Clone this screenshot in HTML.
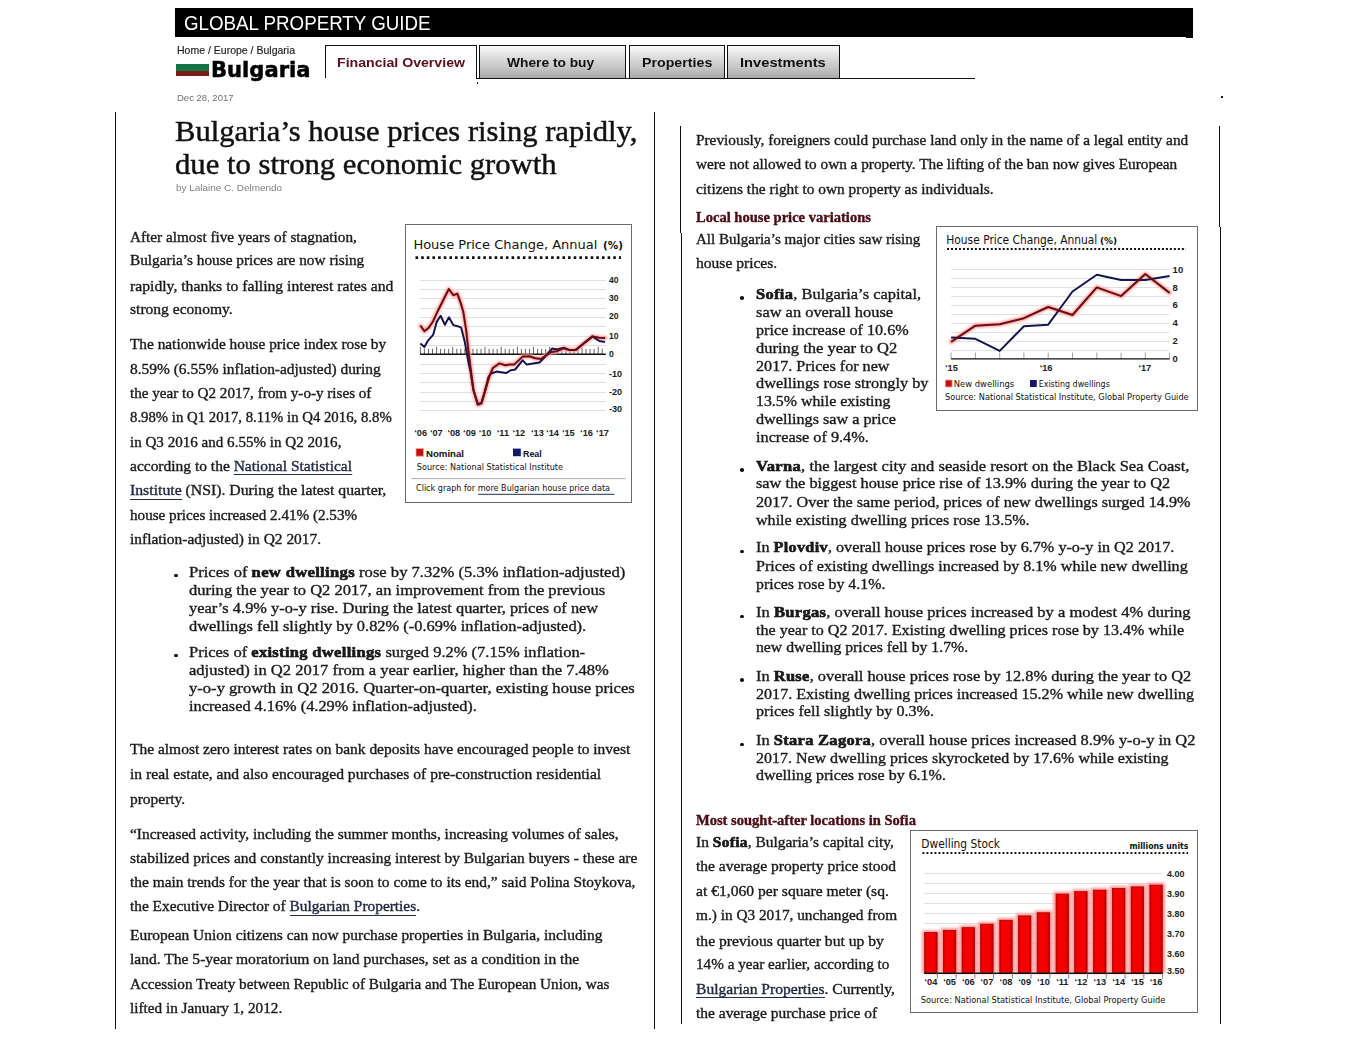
<!DOCTYPE html><html><head><meta charset="utf-8"><title>Bulgaria house prices</title><style>
*{margin:0;padding:0;box-sizing:border-box}
html,body{width:1366px;height:1041px;background:#fff;overflow:hidden;position:relative}
body>div, .abs{position:absolute}
body>div{white-space:nowrap;line-height:1;transform-origin:0 0}
a{color:#1d2f5e;text-decoration:none;border-bottom:1.2px solid #1d2f5e;padding-bottom:0.5px}
.vl{width:1px;background:#111}
.tab{border:1.3px solid #111;background:linear-gradient(#fafafa,#ddd 35%,#c4c4c4 70%,#a8a8a8)}
.tx{-webkit-text-stroke:0.35px #1a1a1a}
.tx b{-webkit-text-stroke:0.6px #111;letter-spacing:0.3px}
.tt{-webkit-text-stroke:0.45px #111}
.dot{width:3.6px;height:3.6px;border-radius:50%;background:#111}
</style></head><body>
<div style="left:175px;top:8px;width:1018px;height:29px;background:#000"></div>
<div style="left:1186px;top:36px;width:7px;height:2px;background:#000"></div>
<div style="left:176px;top:64.4px;width:33px;height:7px;background:#137546"></div>
<div style="left:176px;top:71.4px;width:33px;height:4.3px;background:#7d1d17"></div>
<div style="left:325px;top:45px;width:151.5px;height:32.5px;border:1.3px solid #111;border-bottom:none;background:#fff"></div>
<div class="tab" style="left:479px;top:45px;width:147px;height:33.8px"></div>
<div class="tab" style="left:628.5px;top:45px;width:96.5px;height:33.8px"></div>
<div class="tab" style="left:727.3px;top:45px;width:112.7px;height:33.8px"></div>
<div style="left:476px;top:77.6px;width:499px;height:1.3px;background:#111"></div>
<div style="left:477px;top:81.5px;width:1px;height:2.5px;background:#111"></div>
<div class="vl" style="left:115px;top:112px;height:917px"></div>
<div class="vl" style="left:654px;top:112px;height:917px"></div>
<div class="vl" style="left:680px;top:126px;height:106.5px"></div>
<div class="vl" style="left:681px;top:232.5px;height:791.5px"></div>
<div class="vl" style="left:1219px;top:126px;height:101px"></div>
<div class="vl" style="left:1220px;top:227px;height:797px"></div>
<div style="left:1221px;top:96px;width:1.5px;height:1.5px;background:#111"></div>
<div class="dot" style="left:174.2px;top:573.7px"></div>
<div class="dot" style="left:174.2px;top:653.7px"></div>
<div class="dot" style="left:740.4px;top:296.2px"></div>
<div class="dot" style="left:740.4px;top:468.2px"></div>
<div class="dot" style="left:740.4px;top:549.7px"></div>
<div class="dot" style="left:740.4px;top:614.7px"></div>
<div class="dot" style="left:740.4px;top:678.2px"></div>
<div class="dot" style="left:740.4px;top:742.7px"></div>
<div style="left:184.0px;top:12.4px;font-family:'Liberation Sans', Arial, sans-serif;font-size:21px;color:#fff;transform:scaleX(0.8925);">GLOBAL PROPERTY GUIDE</div>
<div style="left:176.6px;top:46.4px;font-family:'Liberation Sans', Arial, sans-serif;font-size:10.2px;color:#1a1a1a;-webkit-text-stroke:0.15px #1a1a1a;transform:scaleX(1.0316);">Home / Europe / Bulgaria</div>
<div style="left:210.5px;top:60.0px;font-family:'DejaVu Sans', 'Liberation Sans', sans-serif;font-size:21px;color:#000;font-weight:bold;-webkit-text-stroke:0.5px #000;transform:scaleX(1.0041);">Bulgaria</div>
<div style="left:176.6px;top:93.4px;font-family:'Liberation Sans', Arial, sans-serif;font-size:9.4px;color:#6f6f6f;transform:scaleX(1.0129);">Dec 28, 2017</div>
<div style="left:337.0px;top:56.1px;font-family:'Liberation Sans', Arial, sans-serif;font-size:13.5px;color:#5a0f1a;font-weight:bold;transform:scaleX(1.0465);">Financial Overview</div>
<div style="left:507.3px;top:55.9px;font-family:'Liberation Sans', Arial, sans-serif;font-size:13.5px;color:#111;font-weight:bold;transform:scaleX(1.0197);">Where to buy</div>
<div style="left:642.0px;top:55.9px;font-family:'Liberation Sans', Arial, sans-serif;font-size:13.5px;color:#111;font-weight:bold;transform:scaleX(1.0527);">Properties</div>
<div style="left:740.0px;top:55.9px;font-family:'Liberation Sans', Arial, sans-serif;font-size:13.5px;color:#111;font-weight:bold;transform:scaleX(1.0891);">Investments</div>
<div class="tt" style="left:175.4px;top:117.1px;font-family:'Liberation Serif', 'DejaVu Serif', serif;font-size:29px;color:#111;transform:scaleX(1.0541);">Bulgaria’s house prices rising rapidly,</div>
<div class="tt" style="left:175.4px;top:150.2px;font-family:'Liberation Serif', 'DejaVu Serif', serif;font-size:29px;color:#111;transform:scaleX(1.0576);">due to strong economic growth</div>
<div style="left:176.4px;top:184.2px;font-family:'Liberation Sans', Arial, sans-serif;font-size:9.2px;color:#808080;transform:scaleX(1.0809);">by Lalaine C. Delmendo</div>
<div class="tx" style="left:130.0px;top:229.7px;font-family:'Liberation Serif', 'DejaVu Serif', serif;font-size:14.5px;color:#1a1a1a;transform:scaleX(1.0513);">After almost five years of stagnation,</div>
<div class="tx" style="left:130.0px;top:253.4px;font-family:'Liberation Serif', 'DejaVu Serif', serif;font-size:14.5px;color:#1a1a1a;transform:scaleX(1.0559);">Bulgaria’s house prices are now rising</div>
<div class="tx" style="left:130.0px;top:278.6px;font-family:'Liberation Serif', 'DejaVu Serif', serif;font-size:14.5px;color:#1a1a1a;transform:scaleX(1.0818);">rapidly, thanks to falling interest rates and</div>
<div class="tx" style="left:130.0px;top:302.4px;font-family:'Liberation Serif', 'DejaVu Serif', serif;font-size:14.5px;color:#1a1a1a;transform:scaleX(1.0729);">strong economy.</div>
<div class="tx" style="left:130.0px;top:337.3px;font-family:'Liberation Serif', 'DejaVu Serif', serif;font-size:14.5px;color:#1a1a1a;transform:scaleX(1.0569);">The nationwide house price index rose by</div>
<div class="tx" style="left:130.0px;top:361.5px;font-family:'Liberation Serif', 'DejaVu Serif', serif;font-size:14.5px;color:#1a1a1a;transform:scaleX(1.0642);">8.59% (6.55% inflation-adjusted) during</div>
<div class="tx" style="left:130.0px;top:385.9px;font-family:'Liberation Serif', 'DejaVu Serif', serif;font-size:14.5px;color:#1a1a1a;transform:scaleX(1.0426);">the year to Q2 2017, from y-o-y rises of</div>
<div class="tx" style="left:130.0px;top:410.1px;font-family:'Liberation Serif', 'DejaVu Serif', serif;font-size:14.5px;color:#1a1a1a;transform:scaleX(1.0190);">8.98% in Q1 2017, 8.11% in Q4 2016, 8.8%</div>
<div class="tx" style="left:130.0px;top:434.5px;font-family:'Liberation Serif', 'DejaVu Serif', serif;font-size:14.5px;color:#1a1a1a;transform:scaleX(1.0394);">in Q3 2016 and 6.55% in Q2 2016,</div>
<div class="tx" style="left:130.0px;top:458.9px;font-family:'Liberation Serif', 'DejaVu Serif', serif;font-size:14.5px;color:#1a1a1a;transform:scaleX(1.0684);">according to the <a>National Statistical</a></div>
<div class="tx" style="left:130.0px;top:483.3px;font-family:'Liberation Serif', 'DejaVu Serif', serif;font-size:14.5px;color:#1a1a1a;transform:scaleX(1.0865);"><a>Institute</a> (NSI). During the latest quarter,</div>
<div class="tx" style="left:130.0px;top:507.7px;font-family:'Liberation Serif', 'DejaVu Serif', serif;font-size:14.5px;color:#1a1a1a;transform:scaleX(1.0444);">house prices increased 2.41% (2.53%</div>
<div class="tx" style="left:130.0px;top:532.1px;font-family:'Liberation Serif', 'DejaVu Serif', serif;font-size:14.5px;color:#1a1a1a;transform:scaleX(1.0640);">inflation-adjusted) in Q2 2017.</div>
<div class="tx" style="left:189.4px;top:564.8px;font-family:'Liberation Serif', 'DejaVu Serif', serif;font-size:15px;color:#1a1a1a;transform:scaleX(1.1052);">Prices of <b>new dwellings</b> rose by 7.32% (5.3% inflation-adjusted)</div>
<div class="tx" style="left:189.4px;top:583.0px;font-family:'Liberation Serif', 'DejaVu Serif', serif;font-size:15px;color:#1a1a1a;transform:scaleX(1.1018);">during the year to Q2 2017, an improvement from the previous</div>
<div class="tx" style="left:189.4px;top:601.2px;font-family:'Liberation Serif', 'DejaVu Serif', serif;font-size:15px;color:#1a1a1a;transform:scaleX(1.0929);">year’s 4.9% y-o-y rise. During the latest quarter, prices of new</div>
<div class="tx" style="left:189.4px;top:619.4px;font-family:'Liberation Serif', 'DejaVu Serif', serif;font-size:15px;color:#1a1a1a;transform:scaleX(1.0946);">dwellings fell slightly by 0.82% (-0.69% inflation-adjusted).</div>
<div class="tx" style="left:189.4px;top:644.6px;font-family:'Liberation Serif', 'DejaVu Serif', serif;font-size:15px;color:#1a1a1a;transform:scaleX(1.0987);">Prices of <b>existing dwellings</b> surged 9.2% (7.15% inflation-</div>
<div class="tx" style="left:189.4px;top:662.8px;font-family:'Liberation Serif', 'DejaVu Serif', serif;font-size:15px;color:#1a1a1a;transform:scaleX(1.1035);">adjusted) in Q2 2017 from a year earlier, higher than the 7.48%</div>
<div class="tx" style="left:189.4px;top:681.0px;font-family:'Liberation Serif', 'DejaVu Serif', serif;font-size:15px;color:#1a1a1a;transform:scaleX(1.1057);">y-o-y growth in Q2 2016. Quarter-on-quarter, existing house prices</div>
<div class="tx" style="left:189.4px;top:699.2px;font-family:'Liberation Serif', 'DejaVu Serif', serif;font-size:15px;color:#1a1a1a;transform:scaleX(1.0864);">increased 4.16% (4.29% inflation-adjusted).</div>
<div class="tx" style="left:130.0px;top:742.2px;font-family:'Liberation Serif', 'DejaVu Serif', serif;font-size:14.5px;color:#1a1a1a;transform:scaleX(1.0674);">The almost zero interest rates on bank deposits have encouraged people to invest</div>
<div class="tx" style="left:130.0px;top:767.4px;font-family:'Liberation Serif', 'DejaVu Serif', serif;font-size:14.5px;color:#1a1a1a;transform:scaleX(1.0757);">in real estate, and also encouraged purchases of pre-construction residential</div>
<div class="tx" style="left:130.0px;top:791.9px;font-family:'Liberation Serif', 'DejaVu Serif', serif;font-size:14.5px;color:#1a1a1a;transform:scaleX(1.0654);">property.</div>
<div class="tx" style="left:130.0px;top:826.8px;font-family:'Liberation Serif', 'DejaVu Serif', serif;font-size:14.5px;color:#1a1a1a;transform:scaleX(1.0649);">“Increased activity, including the summer months, increasing volumes of sales,</div>
<div class="tx" style="left:130.0px;top:850.8px;font-family:'Liberation Serif', 'DejaVu Serif', serif;font-size:14.5px;color:#1a1a1a;transform:scaleX(1.0668);">stabilized prices and constantly increasing interest by Bulgarian buyers - these are</div>
<div class="tx" style="left:130.0px;top:875.3px;font-family:'Liberation Serif', 'DejaVu Serif', serif;font-size:14.5px;color:#1a1a1a;transform:scaleX(1.0618);">the main trends for the year that is soon to come to its end,” said Polina Stoykova,</div>
<div class="tx" style="left:130.0px;top:899.3px;font-family:'Liberation Serif', 'DejaVu Serif', serif;font-size:14.5px;color:#1a1a1a;transform:scaleX(1.0591);">the Executive Director of <a>Bulgarian Properties</a>.</div>
<div class="tx" style="left:130.0px;top:927.7px;font-family:'Liberation Serif', 'DejaVu Serif', serif;font-size:14.5px;color:#1a1a1a;transform:scaleX(1.0665);">European Union citizens can now purchase properties in Bulgaria, including</div>
<div class="tx" style="left:130.0px;top:951.7px;font-family:'Liberation Serif', 'DejaVu Serif', serif;font-size:14.5px;color:#1a1a1a;transform:scaleX(1.0731);">land. The 5-year moratorium on land purchases, set as a condition in the</div>
<div class="tx" style="left:130.0px;top:976.9px;font-family:'Liberation Serif', 'DejaVu Serif', serif;font-size:14.5px;color:#1a1a1a;transform:scaleX(1.0495);">Accession Treaty between Republic of Bulgaria and The European Union, was</div>
<div class="tx" style="left:130.0px;top:1001.4px;font-family:'Liberation Serif', 'DejaVu Serif', serif;font-size:14.5px;color:#1a1a1a;transform:scaleX(1.0498);">lifted in January 1, 2012.</div>
<div class="tx" style="left:696.0px;top:132.7px;font-family:'Liberation Serif', 'DejaVu Serif', serif;font-size:14.5px;color:#1a1a1a;transform:scaleX(1.0559);">Previously, foreigners could purchase land only in the name of a legal entity and</div>
<div class="tx" style="left:696.0px;top:157.1px;font-family:'Liberation Serif', 'DejaVu Serif', serif;font-size:14.5px;color:#1a1a1a;transform:scaleX(1.0519);">were not allowed to own a property. The lifting of the ban now gives European</div>
<div class="tx" style="left:696.0px;top:181.9px;font-family:'Liberation Serif', 'DejaVu Serif', serif;font-size:14.5px;color:#1a1a1a;transform:scaleX(1.0614);">citizens the right to own property as individuals.</div>
<div style="left:696.0px;top:210.2px;font-family:'Liberation Serif', 'DejaVu Serif', serif;font-size:14.2px;color:#4a0c14;font-weight:bold;-webkit-text-stroke:0.35px #4a0c14;transform:scaleX(1.0250);">Local house price variations</div>
<div class="tx" style="left:696.0px;top:232.2px;font-family:'Liberation Serif', 'DejaVu Serif', serif;font-size:14.5px;color:#1a1a1a;transform:scaleX(1.0372);">All Bulgaria’s major cities saw rising</div>
<div class="tx" style="left:696.0px;top:255.9px;font-family:'Liberation Serif', 'DejaVu Serif', serif;font-size:14.5px;color:#1a1a1a;transform:scaleX(1.0726);">house prices.</div>
<div class="tx" style="left:756.3px;top:287.1px;font-family:'Liberation Serif', 'DejaVu Serif', serif;font-size:15px;color:#1a1a1a;transform:scaleX(1.0959);"><b>Sofia</b>, Bulgaria’s capital,</div>
<div class="tx" style="left:756.3px;top:305.1px;font-family:'Liberation Serif', 'DejaVu Serif', serif;font-size:15px;color:#1a1a1a;transform:scaleX(1.0934);">saw an overall house</div>
<div class="tx" style="left:756.3px;top:322.8px;font-family:'Liberation Serif', 'DejaVu Serif', serif;font-size:15px;color:#1a1a1a;transform:scaleX(1.0783);">price increase of 10.6%</div>
<div class="tx" style="left:756.3px;top:340.8px;font-family:'Liberation Serif', 'DejaVu Serif', serif;font-size:15px;color:#1a1a1a;transform:scaleX(1.1012);">during the year to Q2</div>
<div class="tx" style="left:756.3px;top:358.7px;font-family:'Liberation Serif', 'DejaVu Serif', serif;font-size:15px;color:#1a1a1a;transform:scaleX(1.0754);">2017. Prices for new</div>
<div class="tx" style="left:756.3px;top:376.4px;font-family:'Liberation Serif', 'DejaVu Serif', serif;font-size:15px;color:#1a1a1a;transform:scaleX(1.0866);">dwellings rose strongly by</div>
<div class="tx" style="left:756.3px;top:394.4px;font-family:'Liberation Serif', 'DejaVu Serif', serif;font-size:15px;color:#1a1a1a;transform:scaleX(1.0576);">13.5% while existing</div>
<div class="tx" style="left:756.3px;top:412.1px;font-family:'Liberation Serif', 'DejaVu Serif', serif;font-size:15px;color:#1a1a1a;transform:scaleX(1.0799);">dwellings saw a price</div>
<div class="tx" style="left:756.3px;top:430.4px;font-family:'Liberation Serif', 'DejaVu Serif', serif;font-size:15px;color:#1a1a1a;transform:scaleX(1.0833);">increase of 9.4%.</div>
<div class="tx" style="left:756.3px;top:458.8px;font-family:'Liberation Serif', 'DejaVu Serif', serif;font-size:15px;color:#1a1a1a;transform:scaleX(1.1014);"><b>Varna</b>, the largest city and seaside resort on the Black Sea Coast,</div>
<div class="tx" style="left:756.3px;top:476.4px;font-family:'Liberation Serif', 'DejaVu Serif', serif;font-size:15px;color:#1a1a1a;transform:scaleX(1.0864);">saw the biggest house price rise of 13.9% during the year to Q2</div>
<div class="tx" style="left:756.3px;top:494.6px;font-family:'Liberation Serif', 'DejaVu Serif', serif;font-size:15px;color:#1a1a1a;transform:scaleX(1.0794);">2017. Over the same period, prices of new dwellings surged 14.9%</div>
<div class="tx" style="left:756.3px;top:512.9px;font-family:'Liberation Serif', 'DejaVu Serif', serif;font-size:15px;color:#1a1a1a;transform:scaleX(1.0714);">while existing dwelling prices rose 13.5%.</div>
<div class="tx" style="left:756.3px;top:540.3px;font-family:'Liberation Serif', 'DejaVu Serif', serif;font-size:15px;color:#1a1a1a;transform:scaleX(1.0784);">In <b>Plovdiv</b>, overall house prices rose by 6.7% y-o-y in Q2 2017.</div>
<div class="tx" style="left:756.3px;top:558.6px;font-family:'Liberation Serif', 'DejaVu Serif', serif;font-size:15px;color:#1a1a1a;transform:scaleX(1.0728);">Prices of existing dwellings increased by 8.1% while new dwelling</div>
<div class="tx" style="left:756.3px;top:576.5px;font-family:'Liberation Serif', 'DejaVu Serif', serif;font-size:15px;color:#1a1a1a;transform:scaleX(1.0609);">prices rose by 4.1%.</div>
<div class="tx" style="left:756.3px;top:605.3px;font-family:'Liberation Serif', 'DejaVu Serif', serif;font-size:15px;color:#1a1a1a;transform:scaleX(1.1010);">In <b>Burgas</b>, overall house prices increased by a modest 4% during</div>
<div class="tx" style="left:756.3px;top:622.8px;font-family:'Liberation Serif', 'DejaVu Serif', serif;font-size:15px;color:#1a1a1a;transform:scaleX(1.0718);">the year to Q2 2017. Existing dwelling prices rose by 13.4% while</div>
<div class="tx" style="left:756.3px;top:640.4px;font-family:'Liberation Serif', 'DejaVu Serif', serif;font-size:15px;color:#1a1a1a;transform:scaleX(1.0498);">new dwelling prices fell by 1.7%.</div>
<div class="tx" style="left:756.3px;top:668.5px;font-family:'Liberation Serif', 'DejaVu Serif', serif;font-size:15px;color:#1a1a1a;transform:scaleX(1.0918);">In <b>Ruse</b>, overall house prices rose by 12.8% during the year to Q2</div>
<div class="tx" style="left:756.3px;top:686.8px;font-family:'Liberation Serif', 'DejaVu Serif', serif;font-size:15px;color:#1a1a1a;transform:scaleX(1.0729);">2017. Existing dwelling prices increased 15.2% while new dwelling</div>
<div class="tx" style="left:756.3px;top:704.4px;font-family:'Liberation Serif', 'DejaVu Serif', serif;font-size:15px;color:#1a1a1a;transform:scaleX(1.0735);">prices fell slightly by 0.3%.</div>
<div class="tx" style="left:756.3px;top:733.2px;font-family:'Liberation Serif', 'DejaVu Serif', serif;font-size:15px;color:#1a1a1a;transform:scaleX(1.0935);">In <b>Stara Zagora</b>, overall house prices increased 8.9% y-o-y in Q2</div>
<div class="tx" style="left:756.3px;top:750.7px;font-family:'Liberation Serif', 'DejaVu Serif', serif;font-size:15px;color:#1a1a1a;transform:scaleX(1.0645);">2017. New dwelling prices skyrocketed by 17.6% while existing</div>
<div class="tx" style="left:756.3px;top:768.3px;font-family:'Liberation Serif', 'DejaVu Serif', serif;font-size:15px;color:#1a1a1a;transform:scaleX(1.0651);">dwelling prices rose by 6.1%.</div>
<div style="left:696.0px;top:813.3px;font-family:'Liberation Serif', 'DejaVu Serif', serif;font-size:14.2px;color:#4a0c14;font-weight:bold;-webkit-text-stroke:0.35px #4a0c14;transform:scaleX(1.0232);">Most sought-after locations in Sofia</div>
<div class="tx" style="left:696.0px;top:835.3px;font-family:'Liberation Serif', 'DejaVu Serif', serif;font-size:14.5px;color:#1a1a1a;transform:scaleX(1.0645);">In <b>Sofia</b>, Bulgaria’s capital city,</div>
<div class="tx" style="left:696.0px;top:859.1px;font-family:'Liberation Serif', 'DejaVu Serif', serif;font-size:14.5px;color:#1a1a1a;transform:scaleX(1.0706);">the average property price stood</div>
<div class="tx" style="left:696.0px;top:883.9px;font-family:'Liberation Serif', 'DejaVu Serif', serif;font-size:14.5px;color:#1a1a1a;transform:scaleX(1.0765);">at €1,060 per square meter (sq.</div>
<div class="tx" style="left:696.0px;top:908.2px;font-family:'Liberation Serif', 'DejaVu Serif', serif;font-size:14.5px;color:#1a1a1a;transform:scaleX(1.0557);">m.) in Q3 2017, unchanged from</div>
<div class="tx" style="left:696.0px;top:933.6px;font-family:'Liberation Serif', 'DejaVu Serif', serif;font-size:14.5px;color:#1a1a1a;transform:scaleX(1.0776);">the previous quarter but up by</div>
<div class="tx" style="left:696.0px;top:957.2px;font-family:'Liberation Serif', 'DejaVu Serif', serif;font-size:14.5px;color:#1a1a1a;transform:scaleX(1.0476);">14% a year earlier, according to</div>
<div class="tx" style="left:696.0px;top:981.5px;font-family:'Liberation Serif', 'DejaVu Serif', serif;font-size:14.5px;color:#1a1a1a;transform:scaleX(1.0744);"><a>Bulgarian Properties</a>. Currently,</div>
<div class="tx" style="left:696.0px;top:1006.4px;font-family:'Liberation Serif', 'DejaVu Serif', serif;font-size:14.5px;color:#1a1a1a;transform:scaleX(1.0667);">the average purchase price of</div>
<svg class="abs" style="left:405px;top:223px;position:absolute" width="228" height="282" viewBox="405 223 228 282">
<rect x="405.5" y="224.5" width="226" height="278" fill="#fff" stroke="#6a6a6a" stroke-width="1"/>
<text x="413.4" y="249" style="font-family:'DejaVu Sans',sans-serif;font-size:12.8px" fill="#111" textLength="184" lengthAdjust="spacingAndGlyphs">House Price Change, Annual</text>
<text x="603" y="248.8" style="font-family:'DejaVu Sans',sans-serif;font-size:9.6px;font-weight:bold" fill="#111" textLength="20" lengthAdjust="spacingAndGlyphs">(%)</text>
<line x1="415.5" y1="257.6" x2="621" y2="257.6" stroke="#111" stroke-width="2.6" stroke-dasharray="2.6 3.05"/>
<line x1="420" y1="410.5" x2="605.8" y2="410.5" stroke="#e0e0e0" stroke-width="1"/>
<line x1="420" y1="401.5" x2="605.8" y2="401.5" stroke="#e0e0e0" stroke-width="1"/>
<line x1="420" y1="392.5" x2="605.8" y2="392.5" stroke="#e0e0e0" stroke-width="1"/>
<line x1="420" y1="382.5" x2="605.8" y2="382.5" stroke="#e0e0e0" stroke-width="1"/>
<line x1="420" y1="373.5" x2="605.8" y2="373.5" stroke="#e0e0e0" stroke-width="1"/>
<line x1="420" y1="364.5" x2="605.8" y2="364.5" stroke="#e0e0e0" stroke-width="1"/>
<line x1="420" y1="345.5" x2="605.8" y2="345.5" stroke="#e0e0e0" stroke-width="1"/>
<line x1="420" y1="336.5" x2="605.8" y2="336.5" stroke="#e0e0e0" stroke-width="1"/>
<line x1="420" y1="326.5" x2="605.8" y2="326.5" stroke="#e0e0e0" stroke-width="1"/>
<line x1="420" y1="317.5" x2="605.8" y2="317.5" stroke="#e0e0e0" stroke-width="1"/>
<line x1="420" y1="308.5" x2="605.8" y2="308.5" stroke="#e0e0e0" stroke-width="1"/>
<line x1="420" y1="298.5" x2="605.8" y2="298.5" stroke="#e0e0e0" stroke-width="1"/>
<line x1="420" y1="289.5" x2="605.8" y2="289.5" stroke="#e0e0e0" stroke-width="1"/>
<line x1="420" y1="280.5" x2="605.8" y2="280.5" stroke="#e0e0e0" stroke-width="1"/>
<line x1="420.4" y1="346.8" x2="420.4" y2="354.3" stroke="#555" stroke-width="0.9"/>
<line x1="424.4" y1="348.8" x2="424.4" y2="354.3" stroke="#555" stroke-width="0.9"/>
<line x1="428.5" y1="348.8" x2="428.5" y2="354.3" stroke="#555" stroke-width="0.9"/>
<line x1="432.5" y1="348.8" x2="432.5" y2="354.3" stroke="#555" stroke-width="0.9"/>
<line x1="436.6" y1="346.8" x2="436.6" y2="354.3" stroke="#555" stroke-width="0.9"/>
<line x1="440.6" y1="348.8" x2="440.6" y2="354.3" stroke="#555" stroke-width="0.9"/>
<line x1="444.6" y1="348.8" x2="444.6" y2="354.3" stroke="#555" stroke-width="0.9"/>
<line x1="448.7" y1="348.8" x2="448.7" y2="354.3" stroke="#555" stroke-width="0.9"/>
<line x1="452.7" y1="346.8" x2="452.7" y2="354.3" stroke="#555" stroke-width="0.9"/>
<line x1="456.8" y1="348.8" x2="456.8" y2="354.3" stroke="#555" stroke-width="0.9"/>
<line x1="460.8" y1="348.8" x2="460.8" y2="354.3" stroke="#555" stroke-width="0.9"/>
<line x1="464.8" y1="348.8" x2="464.8" y2="354.3" stroke="#555" stroke-width="0.9"/>
<line x1="468.9" y1="346.8" x2="468.9" y2="354.3" stroke="#555" stroke-width="0.9"/>
<line x1="472.9" y1="348.8" x2="472.9" y2="354.3" stroke="#555" stroke-width="0.9"/>
<line x1="477.0" y1="348.8" x2="477.0" y2="354.3" stroke="#555" stroke-width="0.9"/>
<line x1="481.0" y1="348.8" x2="481.0" y2="354.3" stroke="#555" stroke-width="0.9"/>
<line x1="485.0" y1="346.8" x2="485.0" y2="354.3" stroke="#555" stroke-width="0.9"/>
<line x1="489.1" y1="348.8" x2="489.1" y2="354.3" stroke="#555" stroke-width="0.9"/>
<line x1="493.1" y1="348.8" x2="493.1" y2="354.3" stroke="#555" stroke-width="0.9"/>
<line x1="497.2" y1="348.8" x2="497.2" y2="354.3" stroke="#555" stroke-width="0.9"/>
<line x1="501.2" y1="346.8" x2="501.2" y2="354.3" stroke="#555" stroke-width="0.9"/>
<line x1="505.2" y1="348.8" x2="505.2" y2="354.3" stroke="#555" stroke-width="0.9"/>
<line x1="509.3" y1="348.8" x2="509.3" y2="354.3" stroke="#555" stroke-width="0.9"/>
<line x1="513.3" y1="348.8" x2="513.3" y2="354.3" stroke="#555" stroke-width="0.9"/>
<line x1="517.4" y1="346.8" x2="517.4" y2="354.3" stroke="#555" stroke-width="0.9"/>
<line x1="521.4" y1="348.8" x2="521.4" y2="354.3" stroke="#555" stroke-width="0.9"/>
<line x1="525.4" y1="348.8" x2="525.4" y2="354.3" stroke="#555" stroke-width="0.9"/>
<line x1="529.5" y1="348.8" x2="529.5" y2="354.3" stroke="#555" stroke-width="0.9"/>
<line x1="533.5" y1="346.8" x2="533.5" y2="354.3" stroke="#555" stroke-width="0.9"/>
<line x1="537.6" y1="348.8" x2="537.6" y2="354.3" stroke="#555" stroke-width="0.9"/>
<line x1="541.6" y1="348.8" x2="541.6" y2="354.3" stroke="#555" stroke-width="0.9"/>
<line x1="545.6" y1="348.8" x2="545.6" y2="354.3" stroke="#555" stroke-width="0.9"/>
<line x1="549.7" y1="346.8" x2="549.7" y2="354.3" stroke="#555" stroke-width="0.9"/>
<line x1="553.7" y1="348.8" x2="553.7" y2="354.3" stroke="#555" stroke-width="0.9"/>
<line x1="557.8" y1="348.8" x2="557.8" y2="354.3" stroke="#555" stroke-width="0.9"/>
<line x1="561.8" y1="348.8" x2="561.8" y2="354.3" stroke="#555" stroke-width="0.9"/>
<line x1="565.8" y1="346.8" x2="565.8" y2="354.3" stroke="#555" stroke-width="0.9"/>
<line x1="569.9" y1="348.8" x2="569.9" y2="354.3" stroke="#555" stroke-width="0.9"/>
<line x1="573.9" y1="348.8" x2="573.9" y2="354.3" stroke="#555" stroke-width="0.9"/>
<line x1="578.0" y1="348.8" x2="578.0" y2="354.3" stroke="#555" stroke-width="0.9"/>
<line x1="582.0" y1="346.8" x2="582.0" y2="354.3" stroke="#555" stroke-width="0.9"/>
<line x1="586.0" y1="348.8" x2="586.0" y2="354.3" stroke="#555" stroke-width="0.9"/>
<line x1="590.1" y1="348.8" x2="590.1" y2="354.3" stroke="#555" stroke-width="0.9"/>
<line x1="594.1" y1="348.8" x2="594.1" y2="354.3" stroke="#555" stroke-width="0.9"/>
<line x1="598.2" y1="346.8" x2="598.2" y2="354.3" stroke="#555" stroke-width="0.9"/>
<line x1="602.2" y1="348.8" x2="602.2" y2="354.3" stroke="#555" stroke-width="0.9"/>
<line x1="420" y1="354.3" x2="605.8" y2="354.3" stroke="#111" stroke-width="1.5"/>
<text x="609" y="283.1" style="font-family:'Liberation Sans',Arial,sans-serif;font-size:9.8px;font-weight:bold" fill="#1a1a1a" textLength="9.5" lengthAdjust="spacingAndGlyphs">40</text>
<text x="609" y="301.1" style="font-family:'Liberation Sans',Arial,sans-serif;font-size:9.8px;font-weight:bold" fill="#1a1a1a" textLength="9.5" lengthAdjust="spacingAndGlyphs">30</text>
<text x="609" y="319.2" style="font-family:'Liberation Sans',Arial,sans-serif;font-size:9.8px;font-weight:bold" fill="#1a1a1a" textLength="9.5" lengthAdjust="spacingAndGlyphs">20</text>
<text x="609" y="338.9" style="font-family:'Liberation Sans',Arial,sans-serif;font-size:9.8px;font-weight:bold" fill="#1a1a1a" textLength="9.5" lengthAdjust="spacingAndGlyphs">10</text>
<text x="609" y="357.0" style="font-family:'Liberation Sans',Arial,sans-serif;font-size:9.8px;font-weight:bold" fill="#1a1a1a" textLength="4.8" lengthAdjust="spacingAndGlyphs">0</text>
<text x="609" y="376.5" style="font-family:'Liberation Sans',Arial,sans-serif;font-size:9.8px;font-weight:bold" fill="#1a1a1a" textLength="13.1" lengthAdjust="spacingAndGlyphs">-10</text>
<text x="609" y="394.7" style="font-family:'Liberation Sans',Arial,sans-serif;font-size:9.8px;font-weight:bold" fill="#1a1a1a" textLength="13.1" lengthAdjust="spacingAndGlyphs">-20</text>
<text x="609" y="412.0" style="font-family:'Liberation Sans',Arial,sans-serif;font-size:9.8px;font-weight:bold" fill="#1a1a1a" textLength="13.1" lengthAdjust="spacingAndGlyphs">-30</text>
<text x="414.3" y="435.5" style="font-family:'Liberation Sans',Arial,sans-serif;font-size:9.2px;font-weight:bold" fill="#222">‘06</text>
<text x="429.9" y="435.5" style="font-family:'Liberation Sans',Arial,sans-serif;font-size:9.2px;font-weight:bold" fill="#222">‘07</text>
<text x="447.4" y="435.5" style="font-family:'Liberation Sans',Arial,sans-serif;font-size:9.2px;font-weight:bold" fill="#222">‘08</text>
<text x="463.1" y="435.5" style="font-family:'Liberation Sans',Arial,sans-serif;font-size:9.2px;font-weight:bold" fill="#222">‘09</text>
<text x="478.7" y="435.5" style="font-family:'Liberation Sans',Arial,sans-serif;font-size:9.2px;font-weight:bold" fill="#222">‘10</text>
<text x="496.8" y="435.5" style="font-family:'Liberation Sans',Arial,sans-serif;font-size:9.2px;font-weight:bold" fill="#222">‘11</text>
<text x="512.4" y="435.5" style="font-family:'Liberation Sans',Arial,sans-serif;font-size:9.2px;font-weight:bold" fill="#222">‘12</text>
<text x="531" y="435.5" style="font-family:'Liberation Sans',Arial,sans-serif;font-size:9.2px;font-weight:bold" fill="#222">‘13</text>
<text x="546.1" y="435.5" style="font-family:'Liberation Sans',Arial,sans-serif;font-size:9.2px;font-weight:bold" fill="#222">‘14</text>
<text x="561.9" y="435.5" style="font-family:'Liberation Sans',Arial,sans-serif;font-size:9.2px;font-weight:bold" fill="#222">‘15</text>
<text x="580.1" y="435.5" style="font-family:'Liberation Sans',Arial,sans-serif;font-size:9.2px;font-weight:bold" fill="#222">‘16</text>
<text x="596.1" y="435.5" style="font-family:'Liberation Sans',Arial,sans-serif;font-size:9.2px;font-weight:bold" fill="#222">‘17</text>
<filter id="gl1" x="-10%" y="-10%" width="120%" height="120%"><feGaussianBlur stdDeviation="1.1"/></filter>
<polyline points="420.4,325.5 424.4,331.3 428.7,327.7 433.1,321.2 437.4,311.8 441.7,303.2 445.3,296.0 448.8,289.0 453.3,295.2 457.3,293.6 460.5,302.4 463.3,311.8 466.2,330.6 468.4,350.7 470.6,368.0 473.4,389.7 477.8,404.8 481.4,403.4 485.0,391.1 489.3,376.7 492.9,368.0 499.4,363.4 505.2,365.2 510.0,364.6 514.2,364.6 522.6,356.6 529.4,356.2 535.3,358.3 541.1,359.1 546.2,355.4 551.3,352.0 557.1,351.2 563.9,348.2 568.9,349.9 575.7,349.9 582.4,344.4 592.5,336.4 599.2,337.7 605.1,338.1" fill="none" stroke="#ffa0a0" stroke-width="4.5" stroke-linejoin="round" stroke-linecap="round" filter="url(#gl1)"/>
<polyline points="420.4,343.5 424.4,347.1 428.0,340.6 433.1,334.9 436.7,321.9 440.6,315.8 444.9,324.8 448.9,317.3 453.3,325.1 457.6,326.2 461.2,327.7 464.8,342.1 466.6,352.0 468.4,362.0 470.6,372.0 473.4,390.0 477.8,404.0 481.4,403.0 485.0,391.0 488.5,377.0 490.7,373.8 496.5,371.6 505.9,373.1 510.9,370.2 515.2,369.5 522.6,360.4 526.8,364.6 539.5,362.5 545.4,356.2 552.1,348.6 557.1,349.5 563.9,347.8 568.9,349.9 575.7,349.9 582.4,344.4 592.5,336.4 599.2,341.0 605.1,341.9" fill="none" stroke="#16164f" stroke-width="2" stroke-linejoin="round"/>
<polyline points="420.4,325.5 424.4,331.3 428.7,327.7 433.1,321.2 437.4,311.8 441.7,303.2 445.3,296.0 448.8,289.0 453.3,295.2 457.3,293.6 460.5,302.4 463.3,311.8 466.2,330.6 468.4,350.7 470.6,368.0 473.4,389.7 477.8,404.8 481.4,403.4 485.0,391.1 489.3,376.7 492.9,368.0 499.4,363.4 505.2,365.2 510.0,364.6 514.2,364.6 522.6,356.6 529.4,356.2 535.3,358.3 541.1,359.1 546.2,355.4 551.3,352.0 557.1,351.2 563.9,348.2 568.9,349.9 575.7,349.9 582.4,344.4 592.5,336.4 599.2,337.7 605.1,338.1" fill="none" stroke="#6a0e10" stroke-width="2" stroke-linejoin="round"/>
<rect x="416" y="448.6" width="7.5" height="7.6" fill="#c41010" stroke="#f4a0a0" stroke-width="0.8"/>
<text x="426" y="456.7" style="font-family:'Liberation Sans',Arial,sans-serif;font-size:9.6px;font-weight:bold" fill="#111" textLength="38" lengthAdjust="spacingAndGlyphs">Nominal</text>
<rect x="513" y="448.6" width="7.8" height="7.6" fill="#12196a"/>
<text x="523" y="456.7" style="font-family:'Liberation Sans',Arial,sans-serif;font-size:9.6px;font-weight:bold" fill="#111" textLength="18.7" lengthAdjust="spacingAndGlyphs">Real</text>
<text x="416.8" y="469.7" style="font-family:'DejaVu Sans',sans-serif;font-size:8.6px" fill="#111" textLength="146.2" lengthAdjust="spacingAndGlyphs">Source: National Statistical Institute</text>
<line x1="411.4" y1="478.6" x2="625.6" y2="478.6" stroke="#aaa" stroke-width="1"/>
<text x="416" y="490.7" style="font-family:'DejaVu Sans',sans-serif;font-size:8.9px" fill="#111" textLength="194" lengthAdjust="spacingAndGlyphs">Click graph for more Bulgarian house price data</text>
<line x1="478.2" y1="494.3" x2="614.6" y2="494.3" stroke="#1d2f5e" stroke-width="1"/>
</svg>
<svg class="abs" style="left:936px;top:226px;position:absolute" width="263" height="186" viewBox="936 226 263 186">
<rect x="936.5" y="226.5" width="261" height="184" fill="#fff" stroke="#6a6a6a" stroke-width="1"/>
<text x="946.3" y="243.8" style="font-family:'DejaVu Sans',sans-serif;font-size:12px" fill="#111" textLength="151" lengthAdjust="spacingAndGlyphs">House Price Change, Annual</text>
<text x="1100" y="243.6" style="font-family:'DejaVu Sans',sans-serif;font-size:8.8px;font-weight:bold" fill="#111" textLength="17.2" lengthAdjust="spacingAndGlyphs">(%)</text>
<line x1="947" y1="249" x2="1186" y2="249" stroke="#111" stroke-width="2" stroke-dasharray="2 1.98"/>
<line x1="951.1" y1="350.5" x2="1169.6" y2="350.5" stroke="#e0e0e0" stroke-width="1"/>
<line x1="951.1" y1="341.5" x2="1169.6" y2="341.5" stroke="#e0e0e0" stroke-width="1"/>
<line x1="951.1" y1="332.5" x2="1169.6" y2="332.5" stroke="#e0e0e0" stroke-width="1"/>
<line x1="951.1" y1="323.5" x2="1169.6" y2="323.5" stroke="#e0e0e0" stroke-width="1"/>
<line x1="951.1" y1="314.5" x2="1169.6" y2="314.5" stroke="#e0e0e0" stroke-width="1"/>
<line x1="951.1" y1="305.5" x2="1169.6" y2="305.5" stroke="#e0e0e0" stroke-width="1"/>
<line x1="951.1" y1="296.5" x2="1169.6" y2="296.5" stroke="#e0e0e0" stroke-width="1"/>
<line x1="951.1" y1="287.5" x2="1169.6" y2="287.5" stroke="#e0e0e0" stroke-width="1"/>
<line x1="951.1" y1="278.5" x2="1169.6" y2="278.5" stroke="#e0e0e0" stroke-width="1"/>
<line x1="951.1" y1="269.5" x2="1169.6" y2="269.5" stroke="#e0e0e0" stroke-width="1"/>
<line x1="951.1" y1="352.5" x2="951.1" y2="358.9" stroke="#999" stroke-width="0.9"/>
<line x1="975.4" y1="352.5" x2="975.4" y2="358.9" stroke="#999" stroke-width="0.9"/>
<line x1="999.7" y1="352.5" x2="999.7" y2="358.9" stroke="#999" stroke-width="0.9"/>
<line x1="1023.9" y1="352.5" x2="1023.9" y2="358.9" stroke="#999" stroke-width="0.9"/>
<line x1="1048.2" y1="352.5" x2="1048.2" y2="358.9" stroke="#999" stroke-width="0.9"/>
<line x1="1072.5" y1="352.5" x2="1072.5" y2="358.9" stroke="#999" stroke-width="0.9"/>
<line x1="1096.8" y1="352.5" x2="1096.8" y2="358.9" stroke="#999" stroke-width="0.9"/>
<line x1="1121.1" y1="352.5" x2="1121.1" y2="358.9" stroke="#999" stroke-width="0.9"/>
<line x1="1145.3" y1="352.5" x2="1145.3" y2="358.9" stroke="#999" stroke-width="0.9"/>
<line x1="1169.6" y1="352.5" x2="1169.6" y2="358.9" stroke="#999" stroke-width="0.9"/>
<line x1="951.1" y1="358.9" x2="1169.6" y2="358.9" stroke="#111" stroke-width="1.4"/>
<text x="1172.6" y="362.2" style="font-family:'Liberation Sans',Arial,sans-serif;font-size:9.5px;font-weight:bold" fill="#222">0</text>
<text x="1172.6" y="344.3" style="font-family:'Liberation Sans',Arial,sans-serif;font-size:9.5px;font-weight:bold" fill="#222">2</text>
<text x="1172.6" y="326.4" style="font-family:'Liberation Sans',Arial,sans-serif;font-size:9.5px;font-weight:bold" fill="#222">4</text>
<text x="1172.6" y="308.4" style="font-family:'Liberation Sans',Arial,sans-serif;font-size:9.5px;font-weight:bold" fill="#222">6</text>
<text x="1172.6" y="290.5" style="font-family:'Liberation Sans',Arial,sans-serif;font-size:9.5px;font-weight:bold" fill="#222">8</text>
<text x="1172.6" y="272.6" style="font-family:'Liberation Sans',Arial,sans-serif;font-size:9.5px;font-weight:bold" fill="#222">10</text>
<text x="945" y="371.4" style="font-family:'Liberation Sans',Arial,sans-serif;font-size:9.2px;font-weight:bold" fill="#222">‘15</text>
<text x="1039.7" y="371.4" style="font-family:'Liberation Sans',Arial,sans-serif;font-size:9.2px;font-weight:bold" fill="#222">‘16</text>
<text x="1138.4" y="371.4" style="font-family:'Liberation Sans',Arial,sans-serif;font-size:9.2px;font-weight:bold" fill="#222">‘17</text>
<filter id="gl2" x="-10%" y="-20%" width="120%" height="140%"><feGaussianBlur stdDeviation="1.1"/></filter>
<polyline points="951.1,341.8 975.4,325.7 999.7,324.3 1023.9,318.2 1048.2,307.0 1072.5,315.0 1096.8,287.4 1121.1,296.1 1145.3,274.0 1169.6,292.9" fill="none" stroke="#ffa0a0" stroke-width="4.5" stroke-linejoin="round" stroke-linecap="round" filter="url(#gl2)"/>
<polyline points="951.1,337.4 975.4,338.8 999.7,350.9 1023.9,326.3 1048.2,324.7 1072.5,291.5 1096.8,274.8 1121.1,280.0 1145.3,280.0 1169.6,276.0" fill="none" stroke="#16164f" stroke-width="2" stroke-linejoin="round"/>
<polyline points="951.1,341.8 975.4,325.7 999.7,324.3 1023.9,318.2 1048.2,307.0 1072.5,315.0 1096.8,287.4 1121.1,296.1 1145.3,274.0 1169.6,292.9" fill="none" stroke="#6a0e10" stroke-width="2" stroke-linejoin="round"/>
<rect x="945.3" y="380" width="6.8" height="7" fill="#c41010" stroke="#f4a0a0" stroke-width="0.8"/>
<text x="953.8" y="386.7" style="font-family:'DejaVu Sans',sans-serif;font-size:9px" fill="#111" textLength="60.4" lengthAdjust="spacingAndGlyphs">New dwellings</text>
<rect x="1030" y="380" width="6.8" height="7" fill="#12196a"/>
<text x="1038.7" y="386.7" style="font-family:'DejaVu Sans',sans-serif;font-size:9px" fill="#111" textLength="71.1" lengthAdjust="spacingAndGlyphs">Existing dwellings</text>
<text x="945.1" y="399.8" style="font-family:'DejaVu Sans',sans-serif;font-size:8.6px" fill="#111" textLength="243.6" lengthAdjust="spacingAndGlyphs">Source: National Statistical Institute, Global Property Guide</text>
</svg>
<svg class="abs" style="left:910px;top:830px;position:absolute" width="289" height="184" viewBox="910 830 289 184">
<rect x="910.5" y="830.5" width="287" height="182" fill="#fff" stroke="#6a6a6a" stroke-width="1"/>
<text x="921.3" y="848.1" style="font-family:'DejaVu Sans',sans-serif;font-size:12px" fill="#111" textLength="78.6" lengthAdjust="spacingAndGlyphs">Dwelling Stock</text>
<text x="1129.4" y="848.7" style="font-family:'DejaVu Sans',sans-serif;font-size:8.8px;font-weight:bold" fill="#111" textLength="59" lengthAdjust="spacingAndGlyphs">millions units</text>
<line x1="922.5" y1="853" x2="1188" y2="853" stroke="#111" stroke-width="1.9" stroke-dasharray="1.9 2.1"/>
<line x1="924.3" y1="963.5" x2="1163.1" y2="963.5" stroke="#e0e0e0" stroke-width="1"/>
<line x1="924.3" y1="953.5" x2="1163.1" y2="953.5" stroke="#e0e0e0" stroke-width="1"/>
<line x1="924.3" y1="943.5" x2="1163.1" y2="943.5" stroke="#e0e0e0" stroke-width="1"/>
<line x1="924.3" y1="933.5" x2="1163.1" y2="933.5" stroke="#e0e0e0" stroke-width="1"/>
<line x1="924.3" y1="923.5" x2="1163.1" y2="923.5" stroke="#e0e0e0" stroke-width="1"/>
<line x1="924.3" y1="913.5" x2="1163.1" y2="913.5" stroke="#e0e0e0" stroke-width="1"/>
<line x1="924.3" y1="903.5" x2="1163.1" y2="903.5" stroke="#e0e0e0" stroke-width="1"/>
<line x1="924.3" y1="893.5" x2="1163.1" y2="893.5" stroke="#e0e0e0" stroke-width="1"/>
<line x1="924.3" y1="883.5" x2="1163.1" y2="883.5" stroke="#e0e0e0" stroke-width="1"/>
<line x1="924.3" y1="873.5" x2="1163.1" y2="873.5" stroke="#e0e0e0" stroke-width="1"/>
<defs><linearGradient id="bg" x1="0" x2="1" y1="0" y2="0"><stop offset="0" stop-color="#c00000"/><stop offset="0.15" stop-color="#f50000"/><stop offset="0.8" stop-color="#f20000"/><stop offset="1" stop-color="#b00000"/></linearGradient></defs>
<filter id="gl3" x="-30%" y="-10%" width="160%" height="120%"><feGaussianBlur stdDeviation="1.6"/></filter>
<rect x="922.1" y="930.4" width="17.6" height="42.9" fill="#ff8c8c" filter="url(#gl3)"/>
<rect x="940.8" y="928.2" width="17.6" height="45.1" fill="#ff8c8c" filter="url(#gl3)"/>
<rect x="959.5" y="925.5" width="17.6" height="47.8" fill="#ff8c8c" filter="url(#gl3)"/>
<rect x="978.1" y="922.0" width="17.6" height="51.3" fill="#ff8c8c" filter="url(#gl3)"/>
<rect x="997.2" y="918.1" width="17.6" height="55.2" fill="#ff8c8c" filter="url(#gl3)"/>
<rect x="1015.9" y="913.7" width="17.6" height="59.6" fill="#ff8c8c" filter="url(#gl3)"/>
<rect x="1034.6" y="910.6" width="17.6" height="62.7" fill="#ff8c8c" filter="url(#gl3)"/>
<rect x="1053.5" y="891.9" width="17.6" height="81.4" fill="#ff8c8c" filter="url(#gl3)"/>
<rect x="1072.1" y="889.5" width="17.6" height="83.8" fill="#ff8c8c" filter="url(#gl3)"/>
<rect x="1091.0" y="888.0" width="17.6" height="85.3" fill="#ff8c8c" filter="url(#gl3)"/>
<rect x="1109.9" y="886.2" width="17.6" height="87.1" fill="#ff8c8c" filter="url(#gl3)"/>
<rect x="1128.6" y="884.7" width="17.6" height="88.6" fill="#ff8c8c" filter="url(#gl3)"/>
<rect x="1147.3" y="882.9" width="17.6" height="90.4" fill="#ff8c8c" filter="url(#gl3)"/>
<rect x="924.7" y="932.6" width="12.4" height="40.7" fill="url(#bg)" stroke="#a80000" stroke-width="0.8"/>
<rect x="943.4" y="930.4" width="12.4" height="42.9" fill="url(#bg)" stroke="#a80000" stroke-width="0.8"/>
<rect x="962.1" y="927.7" width="12.4" height="45.6" fill="url(#bg)" stroke="#a80000" stroke-width="0.8"/>
<rect x="980.7" y="924.2" width="12.4" height="49.1" fill="url(#bg)" stroke="#a80000" stroke-width="0.8"/>
<rect x="999.8" y="920.3" width="12.4" height="53.0" fill="url(#bg)" stroke="#a80000" stroke-width="0.8"/>
<rect x="1018.5" y="915.9" width="12.4" height="57.4" fill="url(#bg)" stroke="#a80000" stroke-width="0.8"/>
<rect x="1037.2" y="912.8" width="12.4" height="60.5" fill="url(#bg)" stroke="#a80000" stroke-width="0.8"/>
<rect x="1056.1" y="894.1" width="12.4" height="79.2" fill="url(#bg)" stroke="#a80000" stroke-width="0.8"/>
<rect x="1074.7" y="891.7" width="12.4" height="81.6" fill="url(#bg)" stroke="#a80000" stroke-width="0.8"/>
<rect x="1093.6" y="890.2" width="12.4" height="83.1" fill="url(#bg)" stroke="#a80000" stroke-width="0.8"/>
<rect x="1112.5" y="888.4" width="12.4" height="84.9" fill="url(#bg)" stroke="#a80000" stroke-width="0.8"/>
<rect x="1131.2" y="886.9" width="12.4" height="86.4" fill="url(#bg)" stroke="#a80000" stroke-width="0.8"/>
<rect x="1149.9" y="885.1" width="12.4" height="88.2" fill="url(#bg)" stroke="#a80000" stroke-width="0.8"/>
<line x1="924.3" y1="973.3" x2="1163.1" y2="973.3" stroke="#111" stroke-width="1.4"/>
<line x1="937.3" y1="973.3" x2="937.3" y2="978.7" stroke="#777" stroke-width="0.9"/>
<line x1="956.1" y1="973.3" x2="956.1" y2="978.7" stroke="#777" stroke-width="0.9"/>
<line x1="974.8" y1="973.3" x2="974.8" y2="978.7" stroke="#777" stroke-width="0.9"/>
<line x1="993.6" y1="973.3" x2="993.6" y2="978.7" stroke="#777" stroke-width="0.9"/>
<line x1="1012.4" y1="973.3" x2="1012.4" y2="978.7" stroke="#777" stroke-width="0.9"/>
<line x1="1031.1" y1="973.3" x2="1031.1" y2="978.7" stroke="#777" stroke-width="0.9"/>
<line x1="1049.9" y1="973.3" x2="1049.9" y2="978.7" stroke="#777" stroke-width="0.9"/>
<line x1="1068.7" y1="973.3" x2="1068.7" y2="978.7" stroke="#777" stroke-width="0.9"/>
<line x1="1087.5" y1="973.3" x2="1087.5" y2="978.7" stroke="#777" stroke-width="0.9"/>
<line x1="1106.2" y1="973.3" x2="1106.2" y2="978.7" stroke="#777" stroke-width="0.9"/>
<line x1="1125.0" y1="973.3" x2="1125.0" y2="978.7" stroke="#777" stroke-width="0.9"/>
<line x1="1143.8" y1="973.3" x2="1143.8" y2="978.7" stroke="#777" stroke-width="0.9"/>
<line x1="1162.5" y1="973.3" x2="1162.5" y2="978.7" stroke="#777" stroke-width="0.9"/>
<text x="1167" y="876.6" style="font-family:'Liberation Sans',Arial,sans-serif;font-size:9.2px;font-weight:bold" fill="#222" textLength="17.4" lengthAdjust="spacingAndGlyphs">4.00</text>
<text x="1167" y="896.8" style="font-family:'Liberation Sans',Arial,sans-serif;font-size:9.2px;font-weight:bold" fill="#222" textLength="17.4" lengthAdjust="spacingAndGlyphs">3.90</text>
<text x="1167" y="917.3" style="font-family:'Liberation Sans',Arial,sans-serif;font-size:9.2px;font-weight:bold" fill="#222" textLength="17.4" lengthAdjust="spacingAndGlyphs">3.80</text>
<text x="1167" y="937.0" style="font-family:'Liberation Sans',Arial,sans-serif;font-size:9.2px;font-weight:bold" fill="#222" textLength="17.4" lengthAdjust="spacingAndGlyphs">3.70</text>
<text x="1167" y="956.8" style="font-family:'Liberation Sans',Arial,sans-serif;font-size:9.2px;font-weight:bold" fill="#222" textLength="17.4" lengthAdjust="spacingAndGlyphs">3.60</text>
<text x="1167" y="974.3" style="font-family:'Liberation Sans',Arial,sans-serif;font-size:9.2px;font-weight:bold" fill="#222" textLength="17.4" lengthAdjust="spacingAndGlyphs">3.50</text>
<text x="930.9" y="985.3" text-anchor="middle" style="font-family:'Liberation Sans',Arial,sans-serif;font-size:9.2px;font-weight:bold" fill="#222">‘04</text>
<text x="949.6" y="985.3" text-anchor="middle" style="font-family:'Liberation Sans',Arial,sans-serif;font-size:9.2px;font-weight:bold" fill="#222">‘05</text>
<text x="968.3" y="985.3" text-anchor="middle" style="font-family:'Liberation Sans',Arial,sans-serif;font-size:9.2px;font-weight:bold" fill="#222">‘06</text>
<text x="986.9" y="985.3" text-anchor="middle" style="font-family:'Liberation Sans',Arial,sans-serif;font-size:9.2px;font-weight:bold" fill="#222">‘07</text>
<text x="1006.0" y="985.3" text-anchor="middle" style="font-family:'Liberation Sans',Arial,sans-serif;font-size:9.2px;font-weight:bold" fill="#222">‘08</text>
<text x="1024.7" y="985.3" text-anchor="middle" style="font-family:'Liberation Sans',Arial,sans-serif;font-size:9.2px;font-weight:bold" fill="#222">‘09</text>
<text x="1043.4" y="985.3" text-anchor="middle" style="font-family:'Liberation Sans',Arial,sans-serif;font-size:9.2px;font-weight:bold" fill="#222">‘10</text>
<text x="1062.3" y="985.3" text-anchor="middle" style="font-family:'Liberation Sans',Arial,sans-serif;font-size:9.2px;font-weight:bold" fill="#222">‘11</text>
<text x="1080.9" y="985.3" text-anchor="middle" style="font-family:'Liberation Sans',Arial,sans-serif;font-size:9.2px;font-weight:bold" fill="#222">‘12</text>
<text x="1099.8" y="985.3" text-anchor="middle" style="font-family:'Liberation Sans',Arial,sans-serif;font-size:9.2px;font-weight:bold" fill="#222">‘13</text>
<text x="1118.7" y="985.3" text-anchor="middle" style="font-family:'Liberation Sans',Arial,sans-serif;font-size:9.2px;font-weight:bold" fill="#222">‘14</text>
<text x="1137.4" y="985.3" text-anchor="middle" style="font-family:'Liberation Sans',Arial,sans-serif;font-size:9.2px;font-weight:bold" fill="#222">‘15</text>
<text x="1156.1" y="985.3" text-anchor="middle" style="font-family:'Liberation Sans',Arial,sans-serif;font-size:9.2px;font-weight:bold" fill="#222">‘16</text>
<text x="920.8" y="1003.3" style="font-family:'DejaVu Sans',sans-serif;font-size:8.6px" fill="#111" textLength="244.5" lengthAdjust="spacingAndGlyphs">Source: National Statistical Institute, Global Property Guide</text>
</svg>
</body></html>
